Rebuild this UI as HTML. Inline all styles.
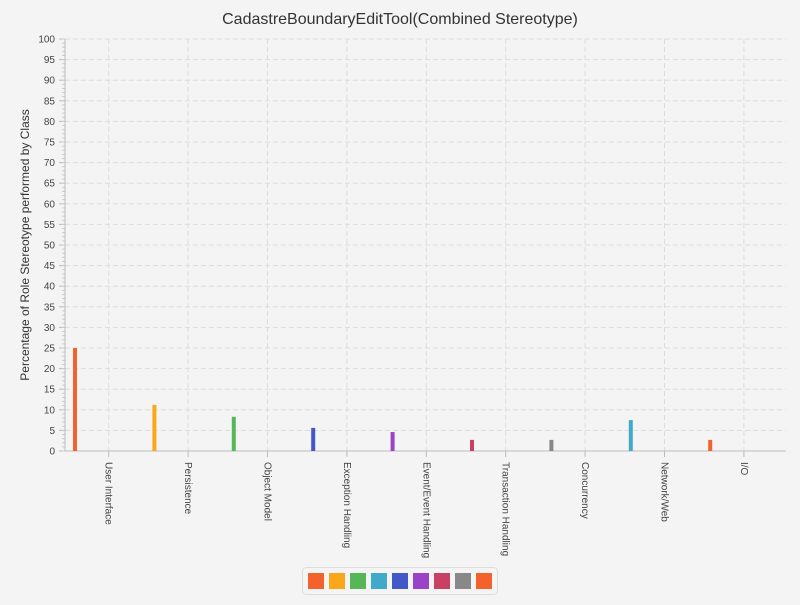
<!DOCTYPE html>
<html><head><meta charset="utf-8"><style>
body{margin:0;background:#f4f4f4;font-family:"Liberation Sans",sans-serif}
</style></head><body>
<svg id="c" width="800" height="600" xmlns="http://www.w3.org/2000/svg">
<rect width="800" height="600" fill="#f4f4f4"/>
<text x="400" y="24" text-anchor="middle" font-size="16" fill="#333">CadastreBoundaryEditTool(Combined Stereotype)</text>
<text transform="translate(29,245) rotate(-90)" text-anchor="middle" font-size="12" fill="#333">Percentage of Role Stereotype performed by Class</text>
<g id="grid"></g><g id="axes"></g><g id="bars"></g><g id="legend"></g>
</svg>
<script>
const categories=["User Interface","Persistence","Object Model","Exception Handling","Event/Event Handling","Transaction Handling","Concurrency","Network/Web","I/O"];
const values=[25,11.2,8.3,5.6,4.6,2.7,2.7,7.5,2.7];
const barColors=["#f3622d","#fba71b","#57b757","#4258c9","#9a42c8","#c84164","#888888","#41a9c9","#f3622d"];
const colors=["#f3622d","#fba71b","#57b757","#41a9c9","#4258c9","#9a42c8","#c84164","#888888","#f3622d"];
const yTicks=[0,5,10,15,20,25,30,35,40,45,50,55,60,65,70,75,80,85,90,95,100];
const NS="http://www.w3.org/2000/svg";
const L=65,R=786,T=39,B=451,band=79.4,catStart=69;
const y=v=>B-(v/100)*(B-T);
const x=i=>catStart+band*i;
function mk(p,tag,a){const e=document.createElementNS(NS,tag);for(const k in a)e.setAttribute(k,a[k]);document.getElementById(p).appendChild(e);return e;}
yTicks.forEach(v=>{
 if(v>0){const g=mk('grid','line',{x1:L,x2:R,y1:y(v),y2:y(v),stroke:'#ddd','stroke-dasharray':'5,3'});
 
 }
 const t=mk('axes','text',{x:L-10,y:y(v)+3.5,'text-anchor':'end','font-size':10,fill:'#444'});
 t.textContent=v;
 
 
 mk('axes','line',{x1:L-6,x2:L,y1:y(v),y2:y(v),stroke:'#bbb'});
});
for(let v=0;v<=100;v++)mk('axes','line',{x1:L-3,x2:L,y1:y(v),y2:y(v),stroke:'#ccc'});
categories.forEach((c,i)=>{
 const cx=x(i)+band/2;
 const g=mk('grid','line',{x1:cx,x2:cx,y1:T,y2:B,stroke:'#ddd','stroke-dasharray':'5,3'});
 
 
 mk('axes','line',{x1:cx,x2:cx,y1:B,y2:B+6,stroke:'#bbb'});
 const t=mk('axes','text',{transform:`translate(${cx-3},${B+11}) rotate(90)`,'font-size':10,fill:'#444'});
 t.textContent=c;
 
 
 const b=mk('bars','rect',{x:x(i)+4,y:y(values[i]),width:4,height:B-y(values[i]),fill:barColors[i]});
 
 
});
mk('axes','line',{x1:L,x2:R,y1:B,y2:B,stroke:'#bbb'});
mk('axes','line',{x1:L,x2:L,y1:T,y2:B,stroke:'#bbb'});
const lb=mk('legend','rect',{x:302.5,y:567.5,width:195,height:27,rx:4,fill:'#f4f4f4',stroke:'#ddd'});


colors.forEach((c,i)=>{
 const r=mk('legend','rect',{x:308+i*21,y:573,width:16,height:16,fill:c});
 
 
});
</script>
</body></html>
